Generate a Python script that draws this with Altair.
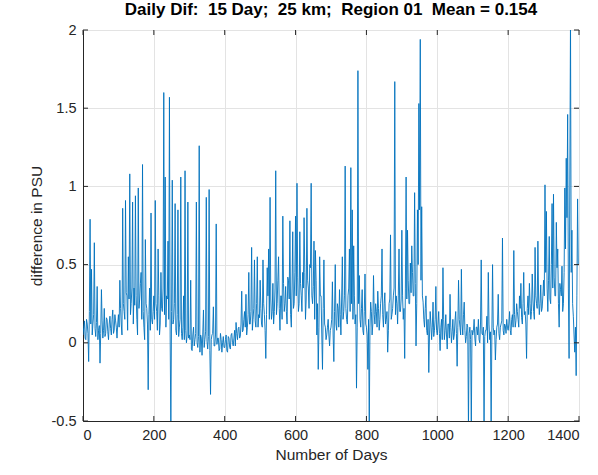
import altair as alt
import pandas as pd

# ---- data ----
# "seg_*" : value on days 0,4,8,... of each 100-day block
# "mid_*" : value on days 2,6,10,... of each 100-day block
seg_0000 = [0.05, 0.14, 0.02, 0.12, -0.12, 0.79, 0.47, 0.12, 0.64, 0.04, 0.36, 0.08, -0.13, 0.34, 0.03, 0.22, 0.06, 0.15, 0.02, 0.17, 0.05, 0.21, 0.08, 0.14, 0.03]
mid_0000 = [0.10, 0.03, 0.15, 0.06, 0.20, 0.12, 0.05, 0.18, 0.09, 0.13, 0.02, 0.11, 0.06, 0.14, 0.08, 0.04, 0.16, 0.07, 0.12, 0.09, 0.15, 0.06, 0.18, 0.10, 0.12]
seg_0100 = [0.18, 0.40, 0.12, 0.86, 0.20, 0.91, 0.30, 0.55, 1.08, 0.25, 0.90, 0.35, 0.94, 0.15, 0.99, 0.28, 0.45, 1.14, 0.10, 0.66, 0.22, -0.30, 0.35, 0.83, 0.12]
mid_0100 = [0.10, 0.22, 0.05, 0.25, 0.15, 0.32, 0.08, 0.28, 0.18, 0.35, 0.12, 0.24, 0.30, 0.05, 0.22, 0.38, 0.15, 0.20, 0.02, 0.25, 0.12, 0.18, 0.08, 0.15, 0.20]
seg_0200 = [0.30, 0.91, 0.20, 0.60, 0.05, 0.45, 0.20, 1.60, 1.06, 0.30, 0.65, 1.57, -0.55, 1.04, 0.15, 0.89, 0.05, 0.85, 0.10, 1.06, 0.02, 0.30, 1.10, 0.00, 0.90]
mid_0200 = [0.15, 0.25, 0.08, 0.30, 0.12, 0.22, 0.35, 0.18, 0.10, 0.28, 0.15, 0.05, 0.20, 0.12, 0.25, 0.08, 0.18, 0.04, 0.15, 0.06, 0.10, 0.02, 0.08, 0.05, 0.03]
seg_0300 = [0.05, 0.40, -0.05, 0.10, 0.02, 0.90, -0.03, 1.26, 0.05, -0.08, 0.21, 0.02, 0.93, -0.04, 0.98, -0.33, 0.05, 0.23, -0.02, 0.76, 0.03, -0.05, 0.06, -0.06, 0.04]
mid_0300 = [0.02, -0.04, 0.05, -0.02, 0.06, 0.00, 0.04, -0.06, 0.03, 0.05, -0.03, 0.07, 0.01, 0.04, -0.05, 0.02, 0.06, -0.02, 0.05, -0.01, 0.03, -0.04, 0.02, 0.00, -0.03]
seg_0400 = [-0.03, 0.05, -0.06, 0.03, -0.04, 0.06, -0.02, 0.08, 0.13, 0.02, 0.10, 0.04, 0.33, 0.08, 0.20, 0.31, 0.10, 0.45, 0.12, 0.61, 0.15, 0.53, 0.10, 0.55, 0.18]
mid_0400 = [0.02, -0.05, 0.04, -0.03, 0.05, 0.00, 0.03, -0.02, 0.06, 0.09, 0.03, 0.12, 0.07, 0.15, 0.10, 0.05, 0.18, 0.12, 0.20, 0.08, 0.22, 0.14, 0.25, 0.10, 0.16]
seg_0500 = [0.40, 0.12, 0.53, 0.18, -0.10, 0.48, 0.60, 0.93, 0.15, 0.38, 0.20, 1.10, 0.25, 0.55, 0.08, 0.30, 0.81, 0.20, 0.36, 0.12, 0.40, 0.78, 0.10, 0.71, 0.25]
mid_0500 = [0.22, 0.10, 0.25, 0.08, 0.18, 0.30, 0.15, 0.28, 0.20, 0.12, 0.35, 0.18, 0.40, 0.22, 0.30, 0.15, 0.38, 0.25, 0.20, 0.42, 0.28, 0.18, 0.35, 0.22, 0.45]
seg_0600 = [0.81, 1.02, 0.20, 0.71, 0.30, 0.45, 0.80, 0.15, 0.86, 0.35, 0.50, 1.02, 0.25, 0.65, 0.59, 0.05, -0.17, 0.55, 0.30, -0.17, 0.53, 0.10, 0.05, 0.15, -0.02]
mid_0600 = [0.30, 0.42, 0.25, 0.38, 0.20, 0.35, 0.45, 0.28, 0.40, 0.22, 0.48, 0.30, 0.36, 0.15, 0.40, 0.25, 0.10, 0.30, 0.05, 0.22, 0.12, 0.02, 0.10, 0.05, 0.08]
seg_0700 = [0.10, 0.39, -0.12, 0.50, 0.08, 0.22, 0.34, 0.05, 0.55, 0.20, 1.13, 0.15, 0.30, 0.60, 1.12, 0.85, 0.62, 0.12, -0.29, 1.74, 0.43, 0.10, 0.34, 0.05, 0.44]
mid_0700 = [0.15, 0.05, 0.20, 0.12, 0.25, 0.10, 0.18, 0.28, 0.15, 0.30, 0.22, 0.12, 0.35, 0.20, 0.25, 0.15, 0.30, 0.18, 0.10, 0.25, 0.15, 0.22, 0.08, 0.20, 0.12]
seg_0800 = [0.10, -0.17, -0.55, 0.26, 0.05, 0.43, 0.12, 0.20, 0.33, 0.08, 0.25, 0.60, 0.10, 0.32, 0.15, -0.06, 0.25, 0.69, 0.18, 0.30, 1.67, 0.30, 0.12, 0.60, 0.20]
mid_0800 = [0.05, 0.15, 0.10, 0.20, 0.12, 0.18, 0.25, 0.10, 0.22, 0.15, 0.30, 0.18, 0.25, 0.12, 0.20, 0.08, 0.28, 0.15, 0.22, 0.35, 0.18, 0.25, 0.30, 0.20, 0.28]
seg_0900 = [0.72, 0.15, -0.10, 1.06, 0.72, 0.25, 0.51, 0.62, 0.30, 0.96, -0.02, 0.85, 1.53, 1.94, 0.87, 0.26, 0.10, 0.30, 0.05, -0.19, 0.20, 0.02, 0.26, 0.08, 0.36]
mid_0900 = [0.30, 0.22, 0.35, 0.28, 0.40, 0.25, 0.32, 0.45, 0.30, 0.38, 0.25, 0.50, 0.85, 0.40, 0.30, 0.15, 0.22, 0.08, 0.15, 0.05, 0.12, 0.10, 0.04, 0.15, 0.08]
seg_1000 = [0.05, 0.20, -0.05, 0.15, 0.48, 0.02, 0.18, -0.04, 0.12, 0.31, 0.00, 0.15, 0.05, 0.20, -0.15, 0.40, 0.10, 0.47, 0.05, 0.26, 0.00, 0.12, -0.55, 0.10, -0.55]
mid_1000 = [0.12, 0.06, 0.10, 0.02, 0.15, 0.08, 0.05, 0.12, 0.03, 0.10, 0.07, 0.02, 0.14, 0.06, 0.10, 0.15, 0.05, 0.12, 0.18, 0.08, 0.04, 0.10, 0.06, 0.02, 0.08]
seg_1100 = [0.05, 0.15, -0.02, 0.10, 0.15, 0.00, 0.53, 0.05, -0.55, 0.08, 0.17, 0.45, 0.02, -0.55, 0.50, 0.05, -0.11, 0.10, 0.31, 0.02, 0.12, 0.67, 0.05, 0.11, 0.15]
mid_1100 = [0.08, 0.03, 0.10, 0.05, 0.02, 0.12, 0.06, 0.10, 0.04, 0.08, 0.00, 0.12, 0.07, 0.05, 0.10, 0.08, 0.02, 0.12, 0.06, 0.10, 0.14, 0.08, 0.12, 0.06, 0.10]
seg_1200 = [0.08, 0.20, 0.05, 0.18, 0.59, 0.10, 0.25, 0.15, 0.30, 0.38, 0.12, 0.45, 0.20, -0.10, 0.30, 0.38, 0.15, 0.44, 0.20, 0.61, 0.25, 0.65, 0.18, 0.37, 0.22]
mid_1200 = [0.12, 0.08, 0.15, 0.10, 0.18, 0.14, 0.20, 0.10, 0.22, 0.16, 0.25, 0.18, 0.12, 0.22, 0.18, 0.25, 0.20, 0.28, 0.15, 0.30, 0.22, 0.28, 0.25, 0.20, 0.30]
seg_1300 = [0.40, 1.01, 0.84, 0.20, 0.68, 0.25, 0.89, 0.95, 0.30, 0.77, 0.60, 0.10, 0.34, 0.49, 0.25, 0.99, 1.18, 1.46, -0.10, 2.05, 0.72, 0.17, -0.06, -0.21, 0.92]
mid_1300 = [0.30, 0.45, 0.35, 0.40, 0.28, 0.50, 0.35, 0.42, 0.30, 0.48, 0.25, 0.38, 0.30, 0.20, 0.45, 0.60, 0.80, 0.35, 1.00, 0.45, 0.25, 0.05, 0.10, 0.30, 0.50]

x_ticks = [0, 200, 400, 600, 800, 1000, 1200, 1400]
y_ticks = [-0.5, 0, 0.5, 1, 1.5, 2]

title_text = "Daily Dif:\u00a0\u00a015 Day;\u00a0\u00a025 km;\u00a0\u00a0Region 01\u00a0\u00a0Mean = 0.154"

seg_blocks = [seg_0000, seg_0100, seg_0200, seg_0300, seg_0400, seg_0500, seg_0600,
              seg_0700, seg_0800, seg_0900, seg_1000, seg_1100, seg_1200, seg_1300]
mid_blocks = [mid_0000, mid_0100, mid_0200, mid_0300, mid_0400, mid_0500, mid_0600,
              mid_0700, mid_0800, mid_0900, mid_1000, mid_1100, mid_1200, mid_1300]

days, vals = [], []
for b, (s, m) in enumerate(zip(seg_blocks, mid_blocks)):
    for i in range(len(s)):
        days += [b * 100 + 4 * i, b * 100 + 4 * i + 2]
        vals += [s[i], m[i]]
df = pd.DataFrame({"day": days, "dif": vals})
xt = pd.DataFrame({"t": x_ticks})
yt = pd.DataFrame({"t": y_ticks})

W, H = 496, 391
AX = "#262626"
FONT = "Liberation Sans"

xscale = alt.Scale(domain=[0, 1400], nice=False, zero=False)
yscale = alt.Scale(domain=[-0.5, 2], nice=False, zero=False)

line = alt.Chart(df).mark_line(color="#0072BD", strokeWidth=0.9, clip=True).encode(
    x=alt.X("day:Q", scale=xscale,
            axis=alt.Axis(values=x_ticks, format="d", title="Number of Days",
                          grid=True, ticks=False, labelPadding=7, titlePadding=6,
                          titleFontWeight="normal")),
    y=alt.Y("dif:Q", scale=yscale,
            axis=alt.Axis(values=y_ticks, labelExpr="toString(datum.value)",
                          title="difference in PSU", grid=True, ticks=False,
                          labelPadding=7, titlePadding=7, titleFontWeight="normal")),
)

xtick_b = alt.Chart(xt).mark_rule(color=AX, strokeWidth=1).encode(
    x=alt.X("t:Q", scale=xscale), y=alt.value(H), y2=alt.value(H - 5))
xtick_t = alt.Chart(xt).mark_rule(color=AX, strokeWidth=1).encode(
    x=alt.X("t:Q", scale=xscale), y=alt.value(0), y2=alt.value(5))
ytick_l = alt.Chart(yt).mark_rule(color=AX, strokeWidth=1).encode(
    y=alt.Y("t:Q", scale=yscale), x=alt.value(0), x2=alt.value(5))
ytick_r = alt.Chart(yt).mark_rule(color=AX, strokeWidth=1).encode(
    y=alt.Y("t:Q", scale=yscale), x=alt.value(W), x2=alt.value(W - 5))

chart = alt.layer(line, xtick_b, xtick_t, ytick_l, ytick_r).properties(
    width=W, height=H,
    background="white",
    title=alt.TitleParams(title_text, font=FONT, fontSize=17, fontWeight="bold",
                          color="#000000", anchor="middle", offset=3),
    autosize=alt.AutoSizeParams(type="none"),
    padding={"left": 83, "top": 30, "right": 19, "bottom": 54},
).configure_view(stroke=AX, strokeWidth=1).configure_axis(
    domainColor=AX, labelColor=AX, titleColor=AX, labelFont=FONT, titleFont=FONT,
    labelFontSize=14.5, titleFontSize=15.5, titleFontWeight="normal",
    gridColor="#e3e3e3", gridWidth=1,
)

chart.save("out.html", embed_options={"renderer": "svg", "actions": False})
